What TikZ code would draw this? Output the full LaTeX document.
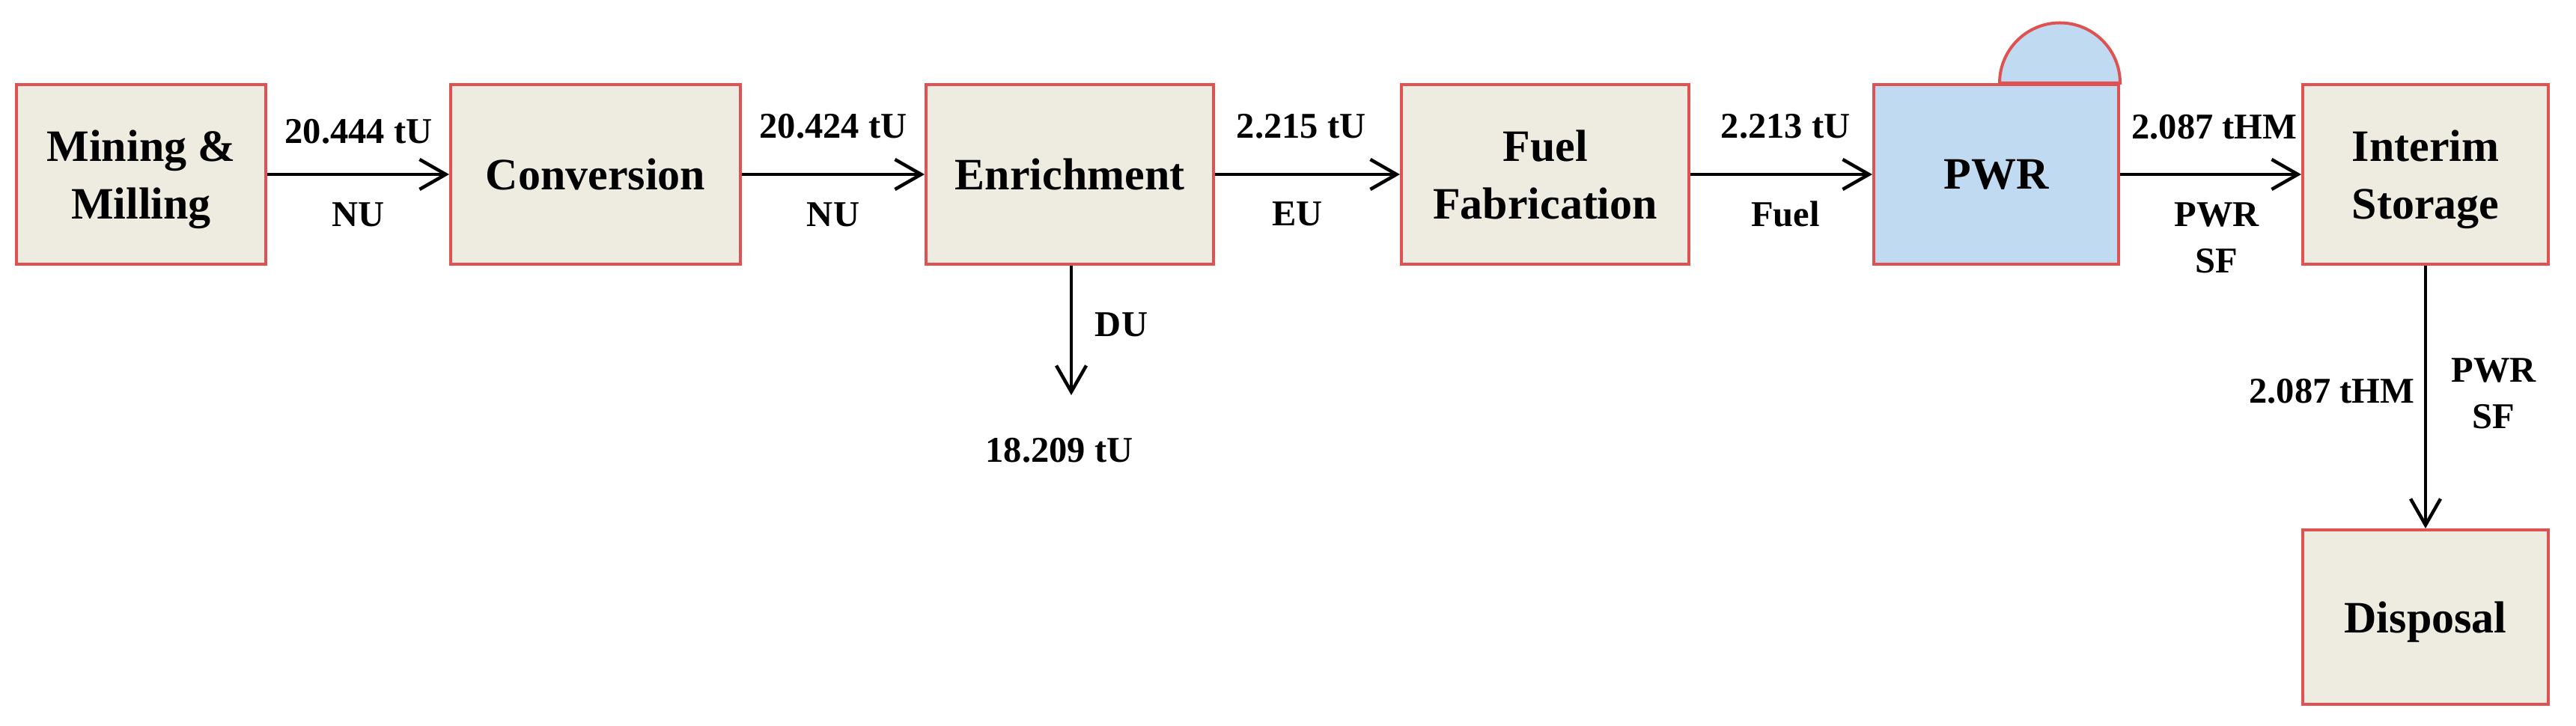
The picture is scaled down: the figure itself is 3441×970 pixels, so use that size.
\documentclass[tikz,border=0pt]{standalone}
\usepackage{fontspec}
\setmainfont{Liberation Serif}
\usetikzlibrary{arrows.meta,calc}
\definecolor{boxred}{RGB}{224,82,82}
\definecolor{boxfill}{RGB}{238,236,225}
\definecolor{pwrfill}{RGB}{192,218,241}
\begin{document}
\begin{tikzpicture}[x=0.2pt,y=-0.2pt,
  stage/.style={draw=boxred, line width=0.8pt, fill=boxfill, minimum height=48pt,
    inner sep=0pt, align=center, text depth=0pt, font=\fontsize{12}{15.4}\selectfont\bfseries},
  flow/.style={draw=black, line width=0.9pt, -{Straight Barb[length=7pt,width=8pt]}},
  lab/.style={font=\fontsize{9.7}{12.4}\selectfont\bfseries, inner sep=0pt, anchor=base}]
\useasboundingbox (0,0) rectangle (3441,970);
% stages
\node[stage, minimum width=66.6pt] (mine) at (188.5,233) {Mining \&\\Milling};
\node[stage, minimum width=77.4pt] (conv) at (795.5,233) {Conversion};
\node[stage, minimum width=76.8pt] (enr) at (1429,233) {Enrichment};
\node[stage, minimum width=76.8pt] (fab) at (2064,233) {Fuel\\Fabrication};
\node[stage, minimum width=65.4pt, fill=pwrfill] (pwr) at (2666.5,233) {PWR};
\node[stage, minimum width=65.6pt] (store) at (3240,233) {Interim\\Storage};
\node[stage, minimum width=65.6pt, minimum height=46.6pt] (disp) at (3240,824.5) {Disposal};
% dome on the reactor
\draw[draw=boxred, fill=pwrfill, line width=0.8pt]
  ($(pwr.north east)+(-161,0)$) arc[start angle=180, end angle=0, radius=16.1pt] -- cycle;
% flows
\draw[flow] (mine.east) -- (conv.west);
\draw[flow] (conv.east) -- (enr.west);
\draw[flow] (enr.east) -- (fab.west);
\draw[flow] (fab.east) -- (pwr.west);
\draw[flow] (pwr.east) -- (store.west);
\coordinate (duend) at (1431,528);
\draw[flow] (enr.south -| duend) -- (duend);
\draw[flow] (store.south) -- (disp.north);
% labels
\node[lab] (l1a) at (479,192) {20.444 tU};
\node[lab] (l1b) at (479,303) {NU};
\node[lab] (l2a) at (1113,185) {20.424 tU};
\node[lab] (l2b) at (1113,303) {NU};
\node[lab] (l3a) at (1738,185) {2.215 tU};
\node[lab] (l3b) at (1733,302) {EU};
\node[lab] (l4a) at (2385,185) {2.213 tU};
\node[lab] (l4b) at (2385,303) {Fuel};
\node[lab] (l5a) at (2958,186) {2.087 tHM};
\node[lab] (l5b) at (2961,303) {PWR};
\node[lab] (l5c) at (2961,365) {SF};
\node[lab] (l6a) at (1498,450) {DU};
\node[lab] (l6b) at (1415,618) {18.209 tU};
\node[lab] (l7a) at (3115,539) {2.087 tHM};
\node[lab] (l7b) at (3331,511) {PWR};
\node[lab] (l7c) at (3331,573) {SF};
\end{tikzpicture}
\end{document}
